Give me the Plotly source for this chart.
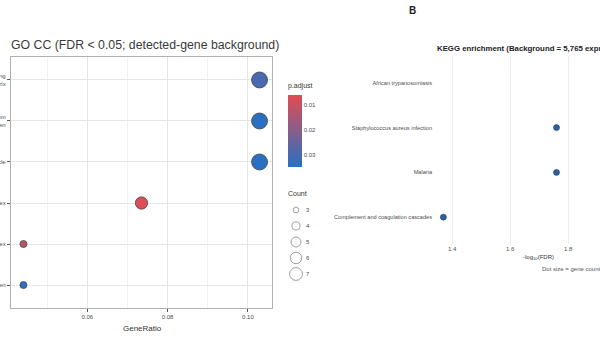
import plotly.graph_objects as go

# ---------------- data ----------------
go_terms = [
    "collagen-containing<br>extracellular matrix",
    "endoplasmic reticulum<br>lumen",
    "blood microparticle",
    "hemoglobin complex",
    "haptoglobin-hemoglobin complex",
    "secretory granule lumen",
]
go_gene_ratio = [0.1029, 0.1029, 0.1029, 0.0735, 0.0441, 0.0441]
go_count = [7, 7, 7, 5, 3, 3]
go_padj = [0.0298, 0.0346, 0.0346, 0.0069, 0.0127, 0.0350]
go_xticks = [0.06, 0.08, 0.10]
go_xticklabels = ["0.06", "0.08", "0.10"]
padj_ticks = [0.01, 0.02, 0.03]
padj_ticklabels = ["0.01", "0.02", "0.03"]
count_levels = [3, 4, 5, 6, 7]

kegg_terms = [
    "African trypanosomiasis",
    "Staphylococcus aureus infection",
    "Malaria",
    "Complement and coagulation cascades",
]
kegg_neglog10fdr = [2.00, 1.76, 1.76, 1.37]
kegg_xticks = [1.4, 1.6, 1.8]
kegg_xticklabels = ["1.4", "1.6", "1.8"]

# ---------------- helpers ----------------
W, H = 600, 338
FONT = "Liberation Sans, Arial, sans-serif"
GREY = "#4d4d4d"


def fx(p):
    return p / W


def fy(p):
    return 1 - p / H


def dot_diam(c, k=1.0):
    return k * (max(51.75 * c - 106, 9)) ** 0.5


fig = go.Figure()

# GO dot plot
n_go = len(go_terms)
go_y = list(range(n_go, 0, -1))
fig.add_trace(go.Scatter(
    x=go_gene_ratio, y=go_y, mode="markers", xaxis="x", yaxis="y",
    showlegend=False, hoverinfo="skip",
    marker=dict(
        size=[dot_diam(c) for c in go_count],
        color=[-p for p in go_padj],
        cmin=-0.035, cmax=-0.006,
        colorscale=[[0, "#2870C4"], [1, "#E44B53"]],
        opacity=1,
        line=dict(color="#4a4a4a", width=0.8),
        showscale=True,
        colorbar=dict(
            x=fx(288), xanchor="left", xpad=0,
            y=fy(95), yanchor="top", ypad=0,
            len=72, lenmode="pixels", thickness=14,
            outlinewidth=0,
            tickvals=[-t for t in padj_ticks], ticktext=padj_ticklabels,
            ticks="", ticklabelposition="outside",
            tickfont=dict(size=6, color=GREY, family=FONT),
        ),
    ),
))

# Count size legend
fig.add_trace(go.Scatter(
    x=[0] * len(count_levels), y=count_levels, mode="markers",
    xaxis="x3", yaxis="y3", showlegend=False, hoverinfo="skip",
    marker=dict(size=[dot_diam(c, 0.8) for c in count_levels],
                color="white", line=dict(color="#555555", width=0.8)),
))
fig.add_trace(go.Scatter(
    x=[1.0] * len(count_levels), y=count_levels, mode="text",
    text=[str(c) for c in count_levels], textposition="middle right",
    textfont=dict(size=6, color=GREY, family=FONT),
    xaxis="x3", yaxis="y3", showlegend=False, hoverinfo="skip",
))

# KEGG dot plot
n_k = len(kegg_terms)
k_y = list(range(n_k, 0, -1))
fig.add_trace(go.Scatter(
    x=kegg_neglog10fdr, y=k_y, mode="markers", xaxis="x2", yaxis="y2",
    showlegend=False, hoverinfo="skip",
    marker=dict(size=6, color="#2E5F9E", line=dict(color="#1f3f6a", width=0.6)),
))

fig.update_layout(
    width=W, height=H,
    margin=dict(l=0, r=0, t=0, b=0),
    paper_bgcolor="white", plot_bgcolor="white",
    font=dict(family=FONT, color=GREY),
    xaxis=dict(
        domain=[fx(11), fx(272)], range=[0.041, 0.106], anchor="y",
        tickvals=go_xticks, ticktext=go_xticklabels,
        tickfont=dict(size=6, color=GREY),
        ticks="outside", ticklen=3, tickcolor="#555555",
        showgrid=True, gridcolor="#e6e6e6", gridwidth=0.8,
        minor=dict(dtick=0.01, tick0=0.05, showgrid=True, gridcolor="#f2f2f2", gridwidth=0.6),
        showline=True, linecolor="#b0b0b0", linewidth=1.2, mirror=True,
        zeroline=False, automargin=False,
    ),
    yaxis=dict(
        domain=[fy(308), fy(57)], range=[0.44, n_go + 0.56], anchor="x",
        tickvals=go_y, ticktext=go_terms,
        tickfont=dict(size=6, color=GREY),
        ticks="outside", ticklen=3, tickcolor="#555555",
        showgrid=True, gridcolor="#e6e6e6", gridwidth=0.8,
        showline=True, linecolor="#b0b0b0", linewidth=1.2, mirror=True,
        zeroline=False, automargin=False,
    ),
    xaxis3=dict(domain=[fx(286), fx(326)], range=[-1, 3], anchor="y3",
                visible=False, fixedrange=True),
    yaxis3=dict(domain=[fy(282), fy(202)], range=[7.5, 2.5], anchor="x3",
                visible=False, fixedrange=True),
    xaxis2=dict(
        domain=[fx(437), 1.0], range=[1.348, 1.910], anchor="y2",
        tickvals=kegg_xticks, ticktext=kegg_xticklabels,
        tickfont=dict(size=6, color=GREY), ticks="",
        showgrid=True, gridcolor="#ececec", gridwidth=0.8,
        showline=False, zeroline=False, automargin=False,
    ),
    yaxis2=dict(
        domain=[fy(244), fy(56)], range=[0.4, n_k + 0.6], anchor="x2",
        tickvals=k_y, ticktext=kegg_terms,
        tickfont=dict(size=5.6, color=GREY), ticks="", ticklabelstandoff=4,
        showgrid=False, showline=False, zeroline=False, automargin=False,
    ),
    annotations=[
        dict(text="GO CC (FDR < 0.05; detected-gene background)",
             x=fx(9), y=fy(45), xref="paper", yref="paper",
             xanchor="left", yanchor="middle", showarrow=False,
             font=dict(size=12.3, color="#3a3a3a")),
        dict(text="GeneRatio", x=fx(142), y=fy(328), xref="paper", yref="paper",
             xanchor="center", yanchor="middle", showarrow=False,
             font=dict(size=8, color="#333333")),
        dict(text="p.adjust", x=fx(286), y=fy(86), xref="paper", yref="paper",
             xanchor="left", yanchor="middle", showarrow=False,
             font=dict(size=7, color="#333333")),
        dict(text="Count", x=fx(286), y=fy(193), xref="paper", yref="paper",
             xanchor="left", yanchor="middle", showarrow=False,
             font=dict(size=7, color="#333333")),
        dict(text="<b>B</b>", x=fx(412), y=fy(10), xref="paper", yref="paper",
             xanchor="center", yanchor="middle", showarrow=False,
             font=dict(size=10, color="#222222")),
        dict(text="<b>KEGG enrichment (Background = 5,765 expressed genes)</b>",
             x=fx(435), y=fy(48), xref="paper", yref="paper",
             xanchor="left", yanchor="middle", showarrow=False,
             font=dict(size=7.8, color="#222222")),
        dict(text="-log<sub>10</sub>(FDR)", x=fx(538), y=fy(257), xref="paper", yref="paper",
             xanchor="center", yanchor="middle", showarrow=False,
             font=dict(size=6, color="#333333")),
        dict(text="Dot size = gene count (k)", x=fx(540), y=fy(269), xref="paper", yref="paper",
             xanchor="left", yanchor="middle", showarrow=False,
             font=dict(size=6, color="#555555")),
    ],
)

fig.write_html("out.html")
